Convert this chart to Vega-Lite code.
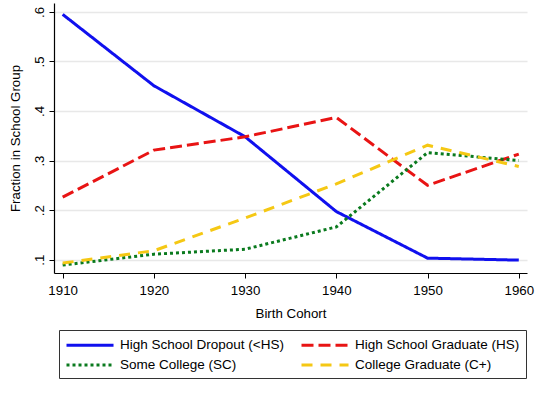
{
  "$schema": "https://vega.github.io/schema/vega-lite/v6.json",
  "width": 473,
  "height": 270,
  "autosize": {"type": "none"},
  "padding": {"left": 54, "top": 3, "right": 33, "bottom": 120},
  "background": "white",
  "config": {
    "font": "Liberation Sans",
    "view": {"stroke": null},
    "axis": {
      "domainColor": "black",
      "domainWidth": 1.2,
      "tickColor": "black",
      "tickWidth": 1,
      "tickSize": 5,
      "labelFont": "Liberation Sans",
      "labelFontSize": 13.3,
      "labelColor": "black",
      "titleFont": "Liberation Sans",
      "titleFontSize": 13.3,
      "titleFontWeight": "normal",
      "titleColor": "black",
      "gridColor": "#e8e8e8",
      "gridWidth": 1.3
    },
    "legend": {
      "orient": "none",
      "direction": "horizontal",
      "legendX": 5,
      "legendY": 327,
      "columns": 2,
      "columnPadding": 11,
      "rowPadding": 4,
      "padding": 6,
      "strokeColor": "#333333",
      "strokeWidth": 1,
      "fillColor": "white",
      "symbolType": "M-1,0H5.27",
      "symbolSize": 225,
      "symbolStrokeWidth": 3,
      "symbolFillColor": "transparent",
      "labelOffset": 37,
      "labelFont": "Liberation Sans",
      "labelFontSize": 13.5,
      "labelColor": "black",
      "labelLimit": 300,
      "title": null
    }
  },
  "data": {
    "values": [
      {"cohort": 1910, "group": "High School Dropout (<HS)", "value": 0.595},
      {"cohort": 1920, "group": "High School Dropout (<HS)", "value": 0.451},
      {"cohort": 1930, "group": "High School Dropout (<HS)", "value": 0.348},
      {"cohort": 1940, "group": "High School Dropout (<HS)", "value": 0.197},
      {"cohort": 1950, "group": "High School Dropout (<HS)", "value": 0.103},
      {"cohort": 1960, "group": "High School Dropout (<HS)", "value": 0.099},
      {"cohort": 1910, "group": "High School Graduate (HS)", "value": 0.226},
      {"cohort": 1920, "group": "High School Graduate (HS)", "value": 0.321},
      {"cohort": 1930, "group": "High School Graduate (HS)", "value": 0.348},
      {"cohort": 1940, "group": "High School Graduate (HS)", "value": 0.387},
      {"cohort": 1950, "group": "High School Graduate (HS)", "value": 0.250},
      {"cohort": 1960, "group": "High School Graduate (HS)", "value": 0.313},
      {"cohort": 1910, "group": "Some College (SC)", "value": 0.089},
      {"cohort": 1920, "group": "Some College (SC)", "value": 0.111},
      {"cohort": 1930, "group": "Some College (SC)", "value": 0.121},
      {"cohort": 1940, "group": "Some College (SC)", "value": 0.166},
      {"cohort": 1950, "group": "Some College (SC)", "value": 0.316},
      {"cohort": 1960, "group": "Some College (SC)", "value": 0.300},
      {"cohort": 1910, "group": "College Graduate (C+)", "value": 0.093},
      {"cohort": 1920, "group": "College Graduate (C+)", "value": 0.118},
      {"cohort": 1930, "group": "College Graduate (C+)", "value": 0.184},
      {"cohort": 1940, "group": "College Graduate (C+)", "value": 0.253},
      {"cohort": 1950, "group": "College Graduate (C+)", "value": 0.331},
      {"cohort": 1960, "group": "College Graduate (C+)", "value": 0.288}
    ]
  },
  "mark": {"type": "line", "strokeWidth": 3, "strokeCap": "butt", "strokeJoin": "miter"},
  "encoding": {
    "x": {
      "field": "cohort",
      "type": "quantitative",
      "title": "Birth Cohort",
      "scale": {"domain": [1909.05, 1960.9], "nice": false, "zero": false},
      "axis": {
        "values": [1910, 1920, 1930, 1940, 1950, 1960],
        "format": "d",
        "grid": false,
        "labelPadding": 5,
        "titlePadding": 10,
        "labelFlush": false
      }
    },
    "y": {
      "field": "value",
      "type": "quantitative",
      "title": "Fraction in School Group",
      "scale": {"domain": [0.073, 0.618], "nice": false, "zero": false},
      "axis": {
        "values": [0.1, 0.2, 0.3, 0.4, 0.5, 0.6],
        "labelExpr": "substring(format(datum.value, '.1f'), 1)",
        "labelAngle": -90,
        "labelAlign": "center",
        "labelBaseline": "bottom",
        "labelPadding": 3,
        "grid": true,
        "titlePadding": 10,
        "labelFlush": false
      }
    },
    "color": {
      "field": "group",
      "type": "nominal",
      "scale": {
        "domain": ["High School Dropout (<HS)", "High School Graduate (HS)", "Some College (SC)", "College Graduate (C+)"],
        "range": ["#1010ee", "#e81414", "#0a7a1e", "#f5c814"]
      },
      "legend": {"title": null}
    },
    "strokeDash": {
      "field": "group",
      "type": "nominal",
      "scale": {
        "domain": ["High School Dropout (<HS)", "High School Graduate (HS)", "Some College (SC)", "College Graduate (C+)"],
        "range": [[1, 0], [12, 5], [3, 3], [11, 8]]
      },
      "legend": {"title": null}
    }
  }
}
